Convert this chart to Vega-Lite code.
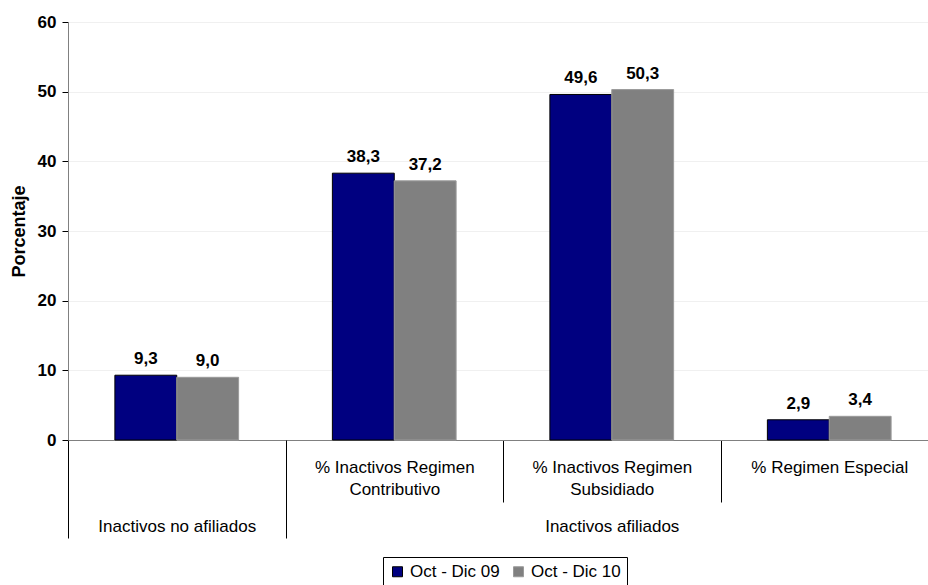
{
  "$schema": "https://vega.github.io/schema/vega-lite/v6.json",
  "width": 860,
  "height": 418,
  "autosize": {"type": "none"},
  "padding": {"left": 68, "top": 22, "right": 0, "bottom": 145},
  "background": "white",
  "config": {
    "locale": {"number": {"decimal": ",", "thousands": ".", "grouping": [3], "currency": ["", ""]}},
    "font": "Liberation Sans",
    "view": {"stroke": null}
  },
  "data": {
    "values": [
      {"categoria": "Inactivos no afiliados", "periodo": "Oct - Dic 09", "valor": 9.3},
      {"categoria": "Inactivos no afiliados", "periodo": "Oct - Dic 10", "valor": 9.0},
      {"categoria": "% Inactivos Regimen Contributivo", "periodo": "Oct - Dic 09", "valor": 38.3},
      {"categoria": "% Inactivos Regimen Contributivo", "periodo": "Oct - Dic 10", "valor": 37.2},
      {"categoria": "% Inactivos Regimen Subsidiado", "periodo": "Oct - Dic 09", "valor": 49.6},
      {"categoria": "% Inactivos Regimen Subsidiado", "periodo": "Oct - Dic 10", "valor": 50.3},
      {"categoria": "% Regimen Especial", "periodo": "Oct - Dic 09", "valor": 2.9},
      {"categoria": "% Regimen Especial", "periodo": "Oct - Dic 10", "valor": 3.4}
    ]
  },
  "encoding": {
    "y": {
      "field": "valor",
      "type": "quantitative",
      "scale": {"domain": [0, 60], "nice": false},
      "axis": {
        "title": "Porcentaje",
        "titleFontSize": 18,
        "titleFontWeight": "bold",
        "titleColor": "#000000",
        "titlePadding": 9,
        "values": [0, 10, 20, 30, 40, 50, 60],
        "labelFontSize": 17,
        "labelFontWeight": "bold",
        "labelColor": "#000000",
        "tickColor": "#000000",
        "tickSize": 6,
        "labelPadding": 6,
        "domainColor": "#808080",
        "grid": true,
        "gridColor": "#f0f0f0"
      }
    },
    "xOffset": {
      "field": "periodo",
      "type": "nominal",
      "scale": {"paddingInner": 0, "paddingOuter": 0.758}
    }
  },
  "layer": [
    {
      "mark": {"type": "bar", "strokeWidth": 1},
      "encoding": {
        "x": {
          "field": "categoria",
          "type": "nominal",
          "sort": ["Inactivos no afiliados", "% Inactivos Regimen Contributivo", "% Inactivos Regimen Subsidiado", "% Regimen Especial"],
          "scale": {"range": [0, 870], "paddingInner": 0, "paddingOuter": 0},
          "axis": {
            "orient": "bottom",
            "title": null,
            "grid": false,
            "domainColor": "#808080",
            "tickBand": "extent",
            "tickColor": "#000000",
            "tickSize": 62,
            "labelPadding": -43,
            "labelAngle": 0,
            "labelFontSize": 17,
            "labelColor": "#000000",
            "labelLineHeight": 22,
            "labelBaseline": "top",
            "labelLimit": 400,
            "labelOverlap": false,
            "labelBound": false,
            "labelExpr": "!isString(datum.value) || datum.value == 'Inactivos no afiliados' ? '' : datum.value == '% Regimen Especial' ? '% Regimen Especial' : ['% Inactivos Regimen', replace(datum.value, '% Inactivos Regimen ', '')]"
          }
        },
        "color": {
          "field": "periodo",
          "type": "nominal",
          "scale": {"range": ["#000080", "#808080"]},
          "legend": {
            "title": null,
            "orient": "none",
            "legendX": 315,
            "legendY": 535,
            "direction": "horizontal",
            "strokeColor": "#000000",
            "fillColor": "#ffffff",
            "padding": 6,
            "symbolType": "square",
            "symbolSize": 100,
            "symbolStrokeWidth": 1,
            "labelFontSize": 17,
            "labelColor": "#000000",
            "labelOffset": 4,
            "columnPadding": 10
          }
        },
        "stroke": {
          "field": "periodo",
          "type": "nominal",
          "scale": {"range": ["#000000", "#9a9a9a"]}
        }
      }
    },
    {
      "mark": {"type": "text", "fontSize": 17, "fontWeight": "bold", "baseline": "alphabetic", "dy": -11, "color": "#000000"},
      "encoding": {
        "x": {
          "field": "categoria",
          "type": "nominal",
          "sort": ["Inactivos no afiliados", "% Inactivos Regimen Contributivo", "% Inactivos Regimen Subsidiado", "% Regimen Especial"],
          "scale": {"range": [0, 870], "paddingInner": 0, "paddingOuter": 0},
          "axis": {
            "orient": "bottom",
            "title": null,
            "grid": false,
            "domain": false,
            "tickBand": "extent",
            "tickSize": 98,
            "tickColor": {"condition": {"test": "datum.value == '% Inactivos Regimen Contributivo' || datum.value == '% Inactivos Regimen Subsidiado'", "value": "transparent"}, "value": "#000000"},
            "labelPadding": -20,
            "labelAngle": 0,
            "labelFontSize": 17,
            "labelColor": "#000000",
            "labelBaseline": "top",
            "labelLimit": 400,
            "labelOverlap": false,
            "labelBound": false,
            "labelExpr": "datum.value == 'Inactivos no afiliados' ? 'Inactivos no afiliados' : datum.value == '% Inactivos Regimen Subsidiado' ? 'Inactivos afiliados' : ''"
          }
        },
        "text": {"field": "valor", "type": "quantitative", "format": ".1f"}
      }
    }
  ],
  "resolve": {"axis": {"x": "independent"}}
}
